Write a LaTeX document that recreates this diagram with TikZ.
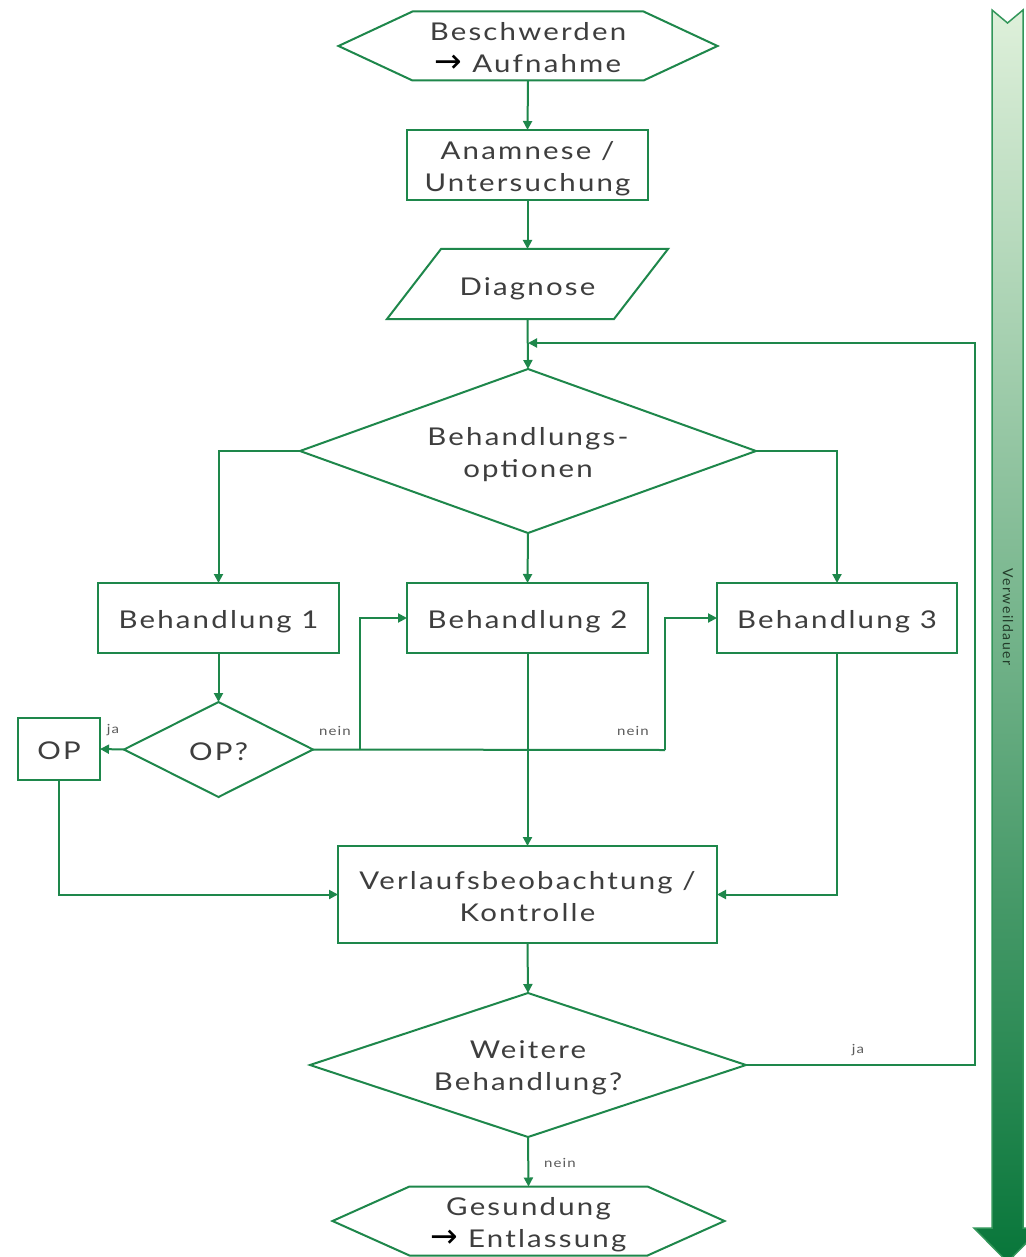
\documentclass[tikz,border=0pt]{standalone}
\usepackage{fontspec}
\setmainfont{Lato}[LetterSpace=9,FakeStretch=1.2]
\newfontfamily\plainlato{Lato}[LetterSpace=10]
\newfontfamily\arrowfont{DejaVu Sans}
\usetikzlibrary{arrows.meta}
\definecolor{lg}{RGB}{30,135,75}
\definecolor{tx}{RGB}{62,62,62}
\definecolor{gtop}{RGB}{222,240,218}
\definecolor{gbot}{RGB}{8,118,58}
\definecolor{gedge}{RGB}{50,150,90}
\newcommand{\rarr}{{\arrowfont\fontsize{33}{32}\selectfont\color{black}→}}
\tikzset{
  shp/.style={inner sep=0pt, outer sep=0pt},
  base/.style={inner sep=0pt, outer sep=0pt, text=tx, align=center, font=\fontsize{24.5}{32}\selectfont},
  frame/.style={draw=lg, line width=2pt, line join=miter},
  conn/.style={draw=lg, line width=2pt, -{Triangle[length=9pt,width=9pt]}},
  plain/.style={draw=lg, line width=2pt},
  lbl/.style={text=tx!85, font=\fontsize{12.5}{14}\selectfont, inner sep=0pt},
}
\begin{document}
\begin{tikzpicture}[x=1pt,y=-1pt]
\useasboundingbox (0,0) rectangle (1025,1257);
\fill[white] (0,0) rectangle (1025,1257);

% Verweildauer arrow
\path[draw=gedge, line width=1.5pt, top color=gtop, bottom color=gbot]
  (992,10) -- (1007.5,23) -- (1023,10) -- (1023,1228) -- (1041,1228) -- (1007.5,1262) -- (974,1228) -- (992,1228) -- cycle;
\node[rotate=-90, inner sep=0pt, text={rgb,255:red,35;green,60;blue,42}, font=\plainlato\fontsize{14}{15}\selectfont] (vd) at (1008,617) {Verweildauer};

% shapes
\node[shp, minimum width=379pt, minimum height=69pt] (start) at (528,46) {};
\draw[frame] (start.west) -- ([xshift=74pt]start.north west) -- ([xshift=-74pt]start.north east) -- (start.east) -- ([xshift=-74pt]start.south east) -- ([xshift=74pt]start.south west) -- cycle;
\node[base, yshift=-2pt] (startt) at (start) {Beschwerden\\\rarr{} Aufnahme};

\node[shp, frame, minimum width=241pt, minimum height=70pt] (anam) at (527.5,165) {};
\node[base, yshift=-3.5pt] (anamt) at (anam) {Anamnese /\\Untersuchung};

\node[shp, minimum width=281pt, minimum height=70pt] (diag) at (527.5,284) {};
\draw[frame] (diag.south west) -- ([xshift=54pt]diag.north west) -- (diag.north east) -- ([xshift=-54pt]diag.south east) -- cycle;
\node[base, yshift=-5pt] (diagt) at (diag) {Diagnose};

\coordinate (m) at (528,343);
\coordinate (rt) at (975,343);

\node[shp, minimum width=456pt, minimum height=164pt] (opt) at (528,451) {};
\draw[frame] (opt.north) -- (opt.east) -- (opt.south) -- (opt.west) -- cycle;
\node[base, yshift=-3.5pt] (optt) at (opt) {Behandlungs-\\optionen};

\node[shp, frame, minimum width=241pt, minimum height=70pt] (b1) at (218.5,618) {};
\node[shp, frame, minimum width=241pt, minimum height=70pt] (b2) at (527.5,618) {};
\node[shp, frame, minimum width=240pt, minimum height=70pt] (b3) at (837,618) {};
\node[base, yshift=-4pt] (b1t) at (b1) {Behandlung 1};
\node[base, yshift=-4pt] (b2t) at (b2) {Behandlung 2};
\node[base, yshift=-4pt] (b3t) at (b3) {Behandlung 3};

\node[shp, minimum width=189pt, minimum height=95pt] (opq) at (218.5,749.5) {};
\draw[frame] (opq.north) -- (opq.east) -- (opq.south) -- (opq.west) -- cycle;
\node[base, yshift=-2pt] (opqt) at (opq) {OP?};

\node[shp, frame, minimum width=82pt, minimum height=62pt] (op) at (59,749) {};
\node[base, yshift=-2pt] (opt2) at (op) {OP};

\node[shp, frame, minimum width=379pt, minimum height=97pt] (verl) at (527.5,894.5) {};
\node[base, yshift=-2pt] (verlt) at (verl) {Verlaufsbeobachtung /\\Kontrolle};

\node[shp, minimum width=436pt, minimum height=144pt] (weit) at (528,1065) {};
\draw[frame] (weit.north) -- (weit.east) -- (weit.south) -- (weit.west) -- cycle;
\node[base, yshift=-3pt] (weitt) at (weit) {Weitere\\Behandlung?};

\node[shp, minimum width=392pt, minimum height=69pt] (ges) at (528.5,1221) {};
\draw[frame] (ges.west) -- ([xshift=77pt]ges.north west) -- ([xshift=-77pt]ges.north east) -- (ges.east) -- ([xshift=-77pt]ges.south east) -- ([xshift=77pt]ges.south west) -- cycle;
\node[base, yshift=-4pt] (gest) at (ges) {Gesundung\\\rarr{} Entlassung};

\coordinate (j1) at (360,750);
\coordinate (j2) at (665,750);

% connectors
\draw[conn] (start.south) -- (anam.north);
\draw[conn] (anam.south) -- (diag.north);
\draw[conn] (diag.south) -- (opt.north);
\draw[conn] (weit.east) -| (rt) -- (m);
\draw[conn] (opt.west) -| (b1.north);
\draw[conn] (opt.east) -| (b3.north);
\draw[conn] (opt.south) -- (b2.north);
\draw[conn] (b1.south) -- (opq.north);
\draw[conn] (opq.west) -- (op.east);
\draw[plain] (opq.east) -- (j2);
\draw[conn] (j1) |- (b2.west);
\draw[conn] (j2) |- (b3.west);
\draw[conn] (b2.south) -- (verl.north);
\draw[conn] (b3.south) |- (verl.east);
\draw[conn] (op.south) |- (verl.west);
\draw[conn] (verl.south) -- (weit.north);
\draw[conn] (weit.south) -- (ges.north);

% labels
\node[lbl] (ja1) at (113,730) {ja};
\node[lbl] (n1) at (335,731) {nein};
\node[lbl] (n2) at (633,731) {nein};
\node[lbl] (ja2) at (858,1050) {ja};
\node[lbl] (n3) at (560,1163) {nein};
\end{tikzpicture}
\end{document}
